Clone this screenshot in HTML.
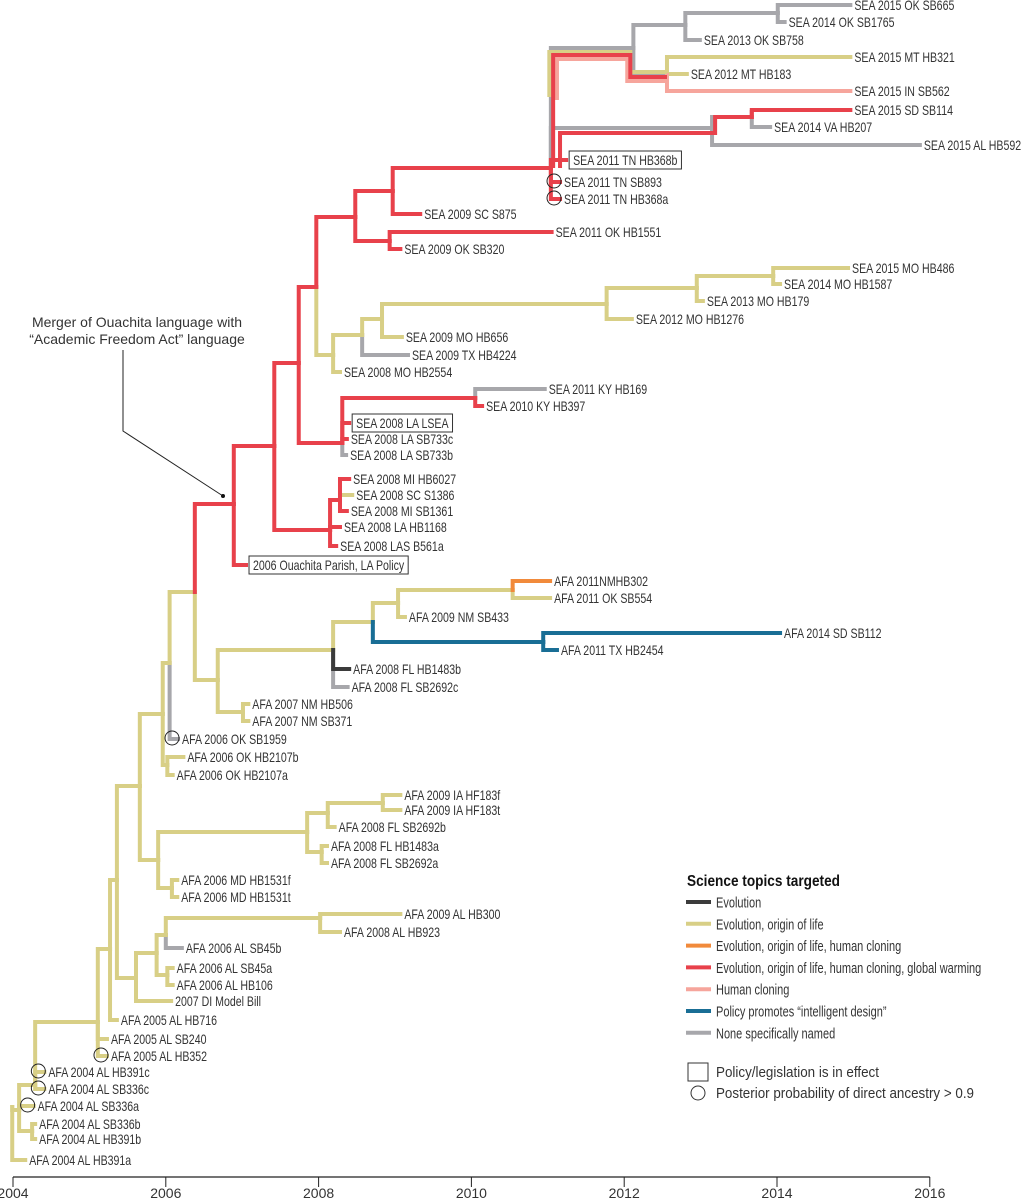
<!DOCTYPE html>
<html><head><meta charset="utf-8"><style>
html,body{margin:0;padding:0;background:#fff;}
svg{display:block;font-family:"Liberation Sans Narrow","Liberation Sans",sans-serif;}
</style></head><body>
<svg id="chart" width="1033" height="1200" viewBox="0 0 1033 1200" xmlns="http://www.w3.org/2000/svg">
<g id="axis"></g>
<g id="tree"></g>
<g id="extra"></g>
<g id="marks"></g>
<g id="labels"></g>
<g id="annot">
  <text x="137" y="327" font-size="14" text-anchor="middle" fill="#333">Merger of Ouachita language with</text>
  <text x="137" y="344" font-size="14" text-anchor="middle" fill="#333">“Academic Freedom Act” language</text>
  <polyline points="123,350 123,431 223,496" fill="none" stroke="#222" stroke-width="1"/>
  <circle cx="223" cy="496" r="2" fill="#111"/>
</g>
<g id="legend"></g>
</svg>
<script>
// ---- data ----
const axisTicks = [2004, 2006, 2008, 2010, 2012, 2014, 2016];
const colorKeys = ['D','Y','O','R','P','B','G'];
const colorNames = ['Evolution','Evolution, origin of life','Evolution, origin of life, human cloning','Evolution, origin of life, human cloning, global warming','Human cloning','Policy promotes “intelligent design”','None specifically named'];
const C = {Y:'#d8cf86',R:'#e8414b',G:'#a7a7ab',D:'#3b3b3b',O:'#f18a3b',P:'#f6a59c',B:'#196e95'};
// node: id, parent, year, row-y, color, label, flag (c = circle, b = box)
const nodes = [
['R0',null,2003.99,1107,'Y'],
['HB391a','R0',2004.16,1160,'Y','AFA 2004 AL HB391a'],
['N1','R0',2004.08,1110,'Y'],
['SB336a','N1',2004.27,1106,'Y','AFA 2004 AL SB336a','c'],
['Nb','N1',2004.25,1131,'Y'],
['SB336b','Nb',2004.29,1124,'Y','AFA 2004 AL SB336b'],
['HB391b','Nb',2004.29,1139,'Y','AFA 2004 AL HB391b'],
['Nc','N1',2004.29,1085,'Y'],
['HB391c','Nc',2004.41,1072,'Y','AFA 2004 AL HB391c','c'],
['SB336c','Nc',2004.41,1089,'Y','AFA 2004 AL SB336c','c'],
['N3','Nc',2005.11,1022,'Y'],
['SB240','N3',2005.23,1039,'Y','AFA 2005 AL SB240'],
['HB352','N3',2005.23,1056,'Y','AFA 2005 AL HB352','c'],
['N4','N3',2005.27,949,'Y'],
['HB716','N4',2005.36,1020,'Y','AFA 2005 AL HB716'],
['N5','N4',2005.36,880,'Y'],
['NAL','N5',2005.61,978,'Y'],
['DI','NAL',2006.07,1001,'Y','2007 DI Model Bill'],
['NAL2','NAL',2005.88,953,'Y'],
['NAL3','NAL2',2006.00,935,'Y'],
['NALHB','NAL3',2008.02,918,'Y'],
['HB300','NALHB',2009.07,914,'Y','AFA 2009 AL HB300'],
['HB923','NALHB',2008.28,932,'Y','AFA 2008 AL HB923'],
['SB45b','NAL3',2006.21,948,'G','AFA 2006 AL SB45b'],
['NAL4','NAL2',2006.02,975,'Y'],
['SB45a','NAL4',2006.09,968,'Y','AFA 2006 AL SB45a'],
['HB106','NAL4',2006.09,985,'Y','AFA 2006 AL HB106'],
['N6','N5',2005.66,786,'Y'],
['NMD','N6',2005.90,860,'Y'],
['NFL','NMD',2007.85,832,'Y'],
['NIA','NFL',2008.12,813,'Y'],
['NIA2','NIA',2008.84,803,'Y'],
['HF183f','NIA2',2009.07,795,'Y','AFA 2009 IA HF183f'],
['HF183t','NIA2',2009.07,810,'Y','AFA 2009 IA HF183t'],
['SB2692b','NIA',2008.21,827,'Y','AFA 2008 FL SB2692b'],
['NFLb','NFL',2008.04,852,'Y'],
['HB1483a','NFLb',2008.11,846,'Y','AFA 2008 FL HB1483a'],
['SB2692a','NFLb',2008.11,863,'Y','AFA 2008 FL SB2692a'],
['NMDl','NMD',2006.08,888,'Y'],
['HB1531f','NMDl',2006.15,880,'Y','AFA 2006 MD HB1531f'],
['HB1531t','NMDl',2006.15,897,'Y','AFA 2006 MD HB1531t'],
['N7','N6',2005.96,714,'Y'],
['N8','N7',2006.05,663,'Y'],
['SB1959','N8',2006.16,739,'G','AFA 2006 OK SB1959','c'],
['NOK','N7',2006.02,765,'Y'],
['HB2107b','NOK',2006.23,757,'Y','AFA 2006 OK HB2107b'],
['HB2107a','NOK',2006.09,775,'Y','AFA 2006 OK HB2107a'],
['N9','N8',2006.38,592,'Y'],
['N10','N9',2006.68,680,'Y'],
['NNM7','N10',2007.01,712,'Y'],
['HB506','NNM7',2007.08,704,'Y','AFA 2007 NM HB506'],
['SB371','NNM7',2007.08,721,'Y','AFA 2007 NM SB371'],
['N11','N10',2008.19,650,'Y'],
['HB1483b','N11',2008.40,669,'D','AFA 2008 FL HB1483b'],
['SB2692c','N11',2008.38,687,'G','AFA 2008 FL SB2692c'],
['N12','N11',2008.71,622,'Y'],
['N13','N12',2009.04,603,'Y'],
['SB433','N13',2009.13,617,'Y','AFA 2009 NM SB433'],
['N14','N13',2010.54,590,'Y'],
['HB302','N14',2011.03,581,'O','AFA 2011NMHB302'],
['SB554','N14',2011.03,598,'Y','AFA 2011 OK SB554'],
['NTX','N12',2010.94,642,'B'],
['SB112','NTX',2014.04,633,'B','AFA 2014 SD SB112'],
['HB2454','NTX',2011.12,650,'B','AFA 2011 TX HB2454'],
['S0','N9',2006.89,504,'R'],
['OUA','S0',2007.05,565,'R','2006 Ouachita Parish, LA Policy','b'],
['S1','S0',2007.42,446,'R'],
['SMI','S1',2008.15,530,'R'],
['B561a','SMI',2008.23,546,'R','SEA 2008 LAS B561a'],
['HB1168','SMI',2008.28,527,'R','SEA 2008 LA HB1168'],
['SMI2','SMI',2008.28,500,'R'],
['HB6027','SMI2',2008.40,479,'R','SEA 2008 MI HB6027'],
['S1386','SMI2',2008.44,495,'Y','SEA 2008 SC S1386'],
['SB1361','SMI2',2008.37,511,'R','SEA 2008 MI SB1361'],
['S2','S1',2007.74,363,'R'],
['S3','S2',2007.97,287,'R'],
['S4','S3',2008.48,217,'R'],
['S5','S4',2008.97,191,'R'],
['S875','S5',2009.33,214,'R','SEA 2009 SC S875'],
['SOK','S4',2008.93,241,'R'],
['HB1551','SOK',2011.05,232,'R','SEA 2011 OK HB1551'],
['SB320','SOK',2009.07,249,'R','SEA 2009 OK SB320'],
['SMO','S3',2008.19,355,'Y'],
['HB2554','SMO',2008.28,372,'Y','SEA 2008 MO HB2554'],
['SMO2','SMO',2008.57,335,'Y'],
['HB4224','SMO2',2009.17,355,'G','SEA 2009 TX HB4224'],
['SMO3','SMO2',2008.83,319,'Y'],
['HB656','SMO3',2009.09,337,'Y','SEA 2009 MO HB656'],
['SMO4','SMO3',2011.77,304,'Y'],
['HB1276','SMO4',2012.10,319,'Y','SEA 2012 MO HB1276'],
['SMO5','SMO4',2012.95,288,'Y'],
['HB179','SMO5',2013.03,301,'Y','SEA 2013 MO HB179'],
['SMO6','SMO5',2013.95,276,'Y'],
['HB486','SMO6',2014.93,268,'Y','SEA 2015 MO HB486'],
['HB1587','SMO6',2014.04,284,'Y','SEA 2014 MO HB1587'],
['SLA','S2',2008.31,443,'R'],
['SKY','SLA',2010.05,398,'R'],
['KY169','SKY',2010.96,389,'G','SEA 2011 KY HB169'],
['KY397','SKY',2010.14,406,'R','SEA 2010 KY HB397'],
['LSEA','SLA',2008.40,423,'R','SEA 2008 LA LSEA','b'],
['SB733c','SLA',2008.37,439,'R','SEA 2008 LA SB733c'],
['SB733b','SLA',2008.36,455,'G','SEA 2008 LA SB733b'],
['STN','S5',2011.04,168,'R'],
['GU','STN',2012.12,48,'G'],
['OK1','GU',2012.80,25,'G'],
['OK3','OK1',2014.01,13,'G'],
['SB665','OK3',2014.96,5,'G','SEA 2015 OK SB665'],
['SB1765','OK3',2014.10,22,'G','SEA 2014 OK SB1765'],
['SB758','OK1',2012.99,40,'G','SEA 2013 OK SB758'],
['MTN','GU',2012.56,75,'G'],
['HB321','MTN',2014.96,57,'Y','SEA 2015 MT HB321'],
['HB183','MTN',2012.82,74,'Y','SEA 2012 MT HB183'],
['SB562','MTN',2014.96,91,'P','SEA 2015 IN SB562'],
['GL','STN',2013.15,128,'G'],
['SB592','GL',2015.87,145,'G','SEA 2015 AL HB592'],
['G2','GL',2013.67,117,'G'],
['VA207','G2',2013.91,127,'G','SEA 2014 VA HB207'],
['SD114','G2',2014.96,110,'R','SEA 2015 SD SB114'],
['HB368b','STN',2011.24,160,'R','SEA 2011 TN HB368b','b'],
['SB893','STN',2011.16,182,'R','SEA 2011 TN SB893','c'],
['HB368a','STN',2011.16,199,'R','SEA 2011 TN HB368a','c']
];
const extraColors = ['Y','P','R','R'];
const extraPaths = [
 [[2011.02,97],[2011.02,52],[2012.08,52],[2012.08,72],[2012.56,72]],
 [[2011.12,100],[2011.12,59],[2012.04,59],[2012.04,81],[2012.56,81]],
 [[2011.07,168],[2011.07,55],[2012.08,55],[2012.08,77],[2012.56,77]],
 [[2011.16,168],[2011.16,133],[2013.19,133],[2013.19,117],[2013.67,117],[2013.67,110]]
];
// ---- scales ----
const X0 = 13, PXY = 76.4;
function xs(yr){ return X0 + (yr - 2004) * PXY; }
const NS = 'http://www.w3.org/2000/svg';
function mk(tag, attrs, parent){ const e = document.createElementNS(NS, tag); for (const k in attrs) e.setAttribute(k, attrs[k]); parent.appendChild(e); return e; }

const byId = {};
nodes.forEach(n => { byId[n[0]] = n; });

// axis
const ax = document.getElementById('axis');
const axLine = mk('line', {x1: xs(2004), x2: xs(2016), y1: 1177, y2: 1177, stroke: '#222', 'stroke-width': 1.2}, ax);


axisTicks.forEach(t => {
  const tk = mk('line', {x1: xs(t), x2: xs(t), y1: 1177, y2: 1187, stroke: '#222', 'stroke-width': 1}, ax);
  
  
  const tl = mk('text', {x: xs(t), y: 1198, 'font-size': 14, 'text-anchor': 'middle', fill: '#333'}, ax);
  tl.textContent = t;
  
  
});

// tree branches
const order = ['G','Y','D','O','B','P','R'];
const tree = document.getElementById('tree');
order.forEach(ck => {
  nodes.forEach(n => {
    if (!n[1] || n[4] !== ck) return;
    const p = byId[n[1]];
    const d = 'M' + xs(p[2]) + ',' + p[3] + 'V' + n[3] + 'H' + xs(n[2]);
    const br = mk('path', {d: d, fill: 'none', stroke: C[ck], 'stroke-width': 4, 'stroke-linejoin': 'miter', 'stroke-linecap': 'square'}, tree);
    
    
  });
});
const ex = document.getElementById('extra');
extraPaths.forEach((pts, i) => {
  const d = pts.map((p, j) => (j ? 'L' : 'M') + xs(p[0]) + ',' + p[1]).join('');
  const pl = mk('path', {d: d, fill: 'none', stroke: C[extraColors[i]], 'stroke-width': 4, 'stroke-linejoin': 'miter'}, ex);
  
  
});

// labels
const FS = 14;
const lg = document.getElementById('labels');
const probe = mk('text', {x: 0, y: -50, 'font-size': FS}, lg);
probe.textContent = 'SEA 2015 OK SB665';
const factor = 100 / probe.getComputedTextLength();
lg.removeChild(probe);
const marks = document.getElementById('marks');
nodes.forEach(n => {
  if (!n[5]) return;
  const isBox = n[6] === 'b';
  const lx = xs(n[2]) + (isBox ? 7 : 4);
  const t = mk('text', {x: lx, y: n[3] + 5, 'font-size': FS, fill: '#333'}, lg);
  t.textContent = n[5];
  
  
  const w = t.getComputedTextLength() * factor;
  t.setAttribute('textLength', w);
  t.setAttribute('lengthAdjust', 'spacingAndGlyphs');
  if (isBox) {
    const bx = mk('rect', {x: lx - 4, y: n[3] - 9, width: w + 8, height: 18, fill: 'none', stroke: '#333', 'stroke-width': 1}, marks);
    
    
  }
  if (n[6] === 'c') {
    const c = mk('circle', {cx: xs(n[2]) - 6, cy: n[3] - 1, r: 7, fill: 'none', stroke: '#222', 'stroke-width': 1}, marks);
    
    
  }
});

// legend
const lgd = document.getElementById('legend');
const title = mk('text', {x: 687, y: 886, 'font-size': 16, 'font-weight': 'bold', fill: '#111'}, lgd);
title.textContent = 'Science topics targeted';


title.setAttribute('textLength', 153);
title.setAttribute('lengthAdjust', 'spacingAndGlyphs');
colorKeys.forEach((k, i) => {
  const y = 902 + i * 21.8;
  const sw = mk('line', {x1: 686, x2: 711, y1: y, y2: y, stroke: C[k], 'stroke-width': 4}, lgd);
  
  
  const tx = mk('text', {x: 716, y: y + 5.5, 'font-size': 15, fill: '#333'}, lgd);
  tx.textContent = colorNames[i];
  
  
  tx.setAttribute('textLength', tx.getComputedTextLength() * factor * 0.97);
  tx.setAttribute('lengthAdjust', 'spacingAndGlyphs');
});
const sq = mk('rect', {x: 688, y: 1063, width: 20, height: 18, fill: 'none', stroke: '#333', 'stroke-width': 1}, lgd);


const sqt = mk('text', {x: 716, y: 1077, 'font-size': 15, fill: '#333'}, lgd);
sqt.textContent = 'Policy/legislation is in effect';


sqt.setAttribute('textLength', 163);
sqt.setAttribute('lengthAdjust', 'spacingAndGlyphs');
const cc = mk('circle', {cx: 698, cy: 1093, r: 7, fill: 'none', stroke: '#333', 'stroke-width': 1}, lgd);


const cct = mk('text', {x: 716, y: 1098, 'font-size': 15, fill: '#333'}, lgd);
cct.textContent = 'Posterior probability of direct ancestry > 0.9';


cct.setAttribute('textLength', 258);
cct.setAttribute('lengthAdjust', 'spacingAndGlyphs');
</script>
</body></html>
